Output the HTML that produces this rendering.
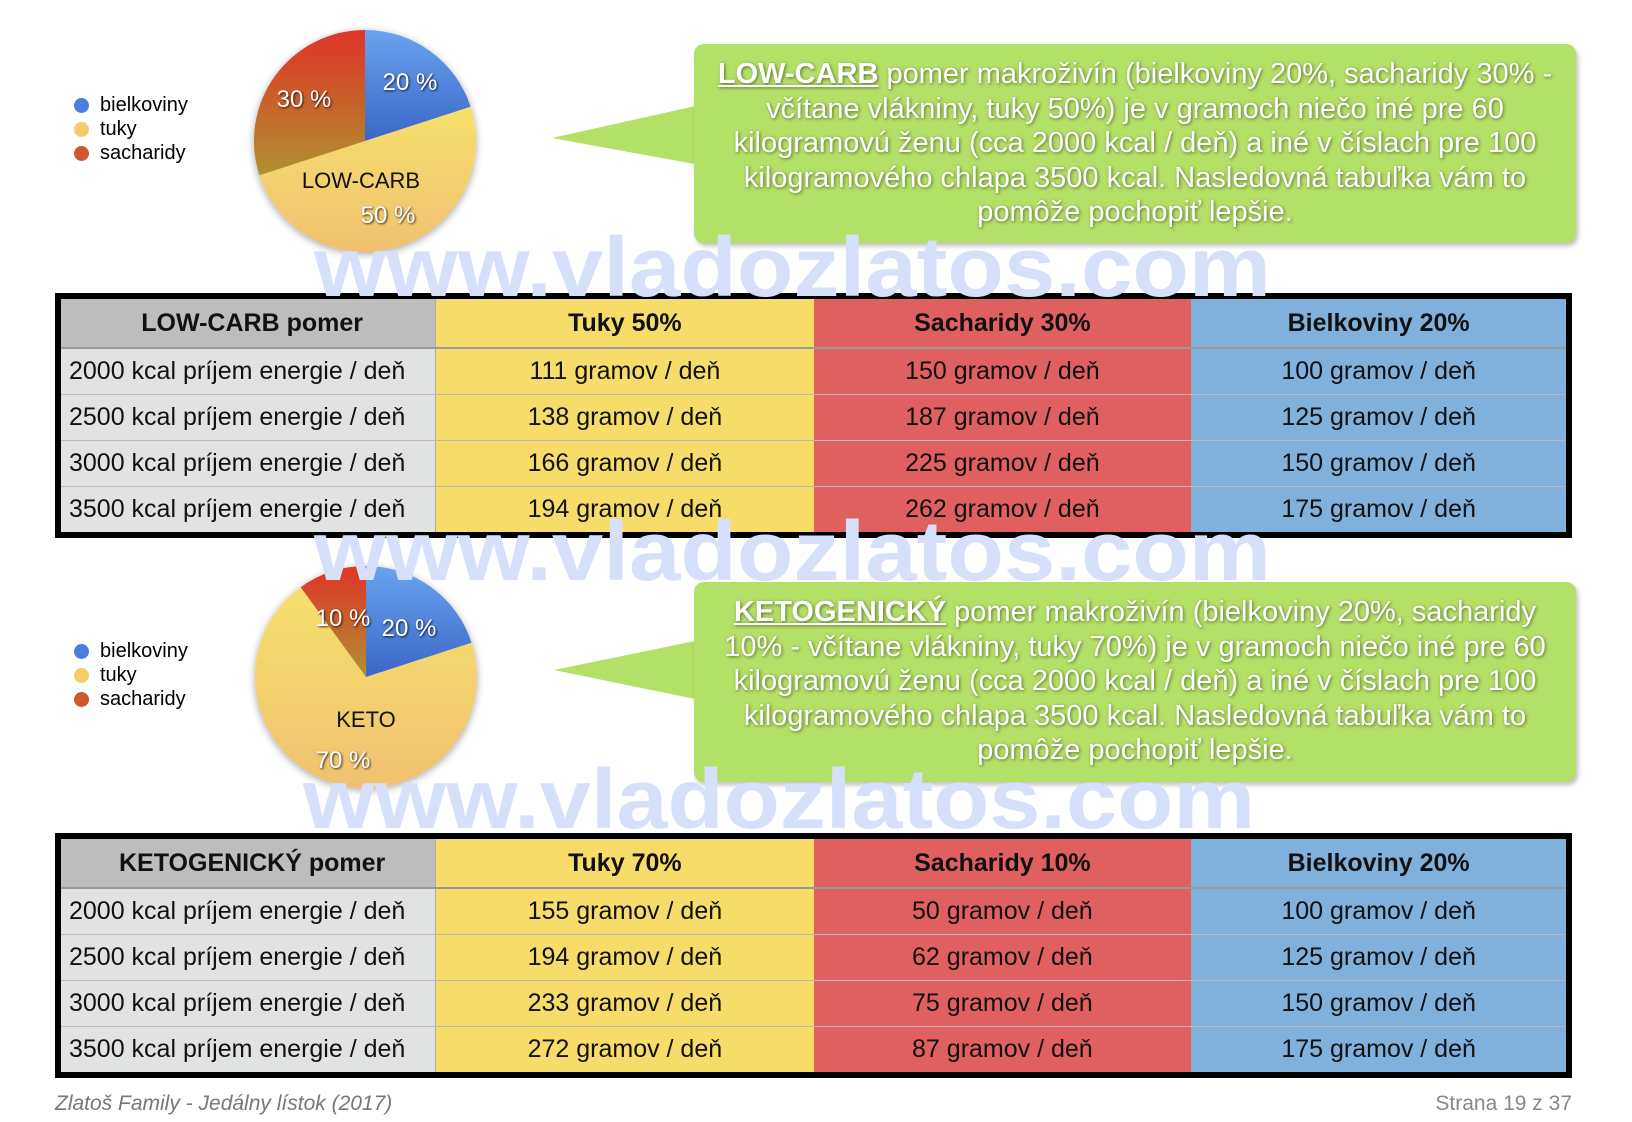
<!DOCTYPE html>
<html><head><meta charset="utf-8"><style>
body{margin:0;width:1632px;height:1122px;background:#fff;position:relative;overflow:hidden;font-family:"Liberation Sans",sans-serif}
.a{position:absolute}
table{position:absolute;border-collapse:collapse;border:6px solid #000;left:55px;width:1517px;table-layout:fixed}
td{height:45px;font-size:25px;text-align:center;border-bottom:1px solid #b9b9b9;padding:0;color:#111}
tr.h td{font-weight:bold;height:48px;border-bottom:2px solid #999}
td.l{text-align:left;padding-left:8px;background:#e1e2e2;border-right:1px solid #aaa}
tr.h td.l{background:#bdbdbd;text-align:center}
td.y{background:#f7dc6a}td.r{background:#e06060}td.b{background:#80b0dc}
.g{position:absolute;background:#b3e066;border-radius:10px;box-shadow:2px 3px 5px rgba(0,0,0,.25);color:#fff;font-size:29px;line-height:34.5px;text-align:center;text-shadow:1px 1px 3px rgba(0,0,0,.5);box-sizing:border-box;padding:13px 10px;white-space:nowrap}
.g u{font-weight:bold}
.lg{position:absolute;font-size:20px;line-height:24px}
.lg div{position:relative;padding-left:20px}
.lg span{position:absolute;left:-6px;top:5px;width:15px;height:15px;border-radius:50%}
</style></head><body>
<svg class="a" style="left:0;top:0" width="1632" height="1122">
<defs>
<linearGradient id="bl" x1="0" y1="0" x2="0" y2="1"><stop offset="0" stop-color="#6aa3ee"/><stop offset="1" stop-color="#3a66c8"/></linearGradient>
<linearGradient id="ye" x1="0" y1="0" x2="0" y2="1"><stop offset="0" stop-color="#f7e06c"/><stop offset="1" stop-color="#f0c070"/></linearGradient>
<linearGradient id="re" x1="0" y1="0" x2="0" y2="1"><stop offset="0" stop-color="#e03428"/><stop offset="1" stop-color="#b09030"/></linearGradient>
<filter id="sh"><feDropShadow dx="0" dy="2" stdDeviation="4" flood-opacity=".35"/></filter>
</defs>
<g filter="url(#sh)">
<path d="M365,141 L365,30 A111,111 0 0 1 470.6,106.7Z" fill="url(#bl)"/>
<path d="M365,141 L470.6,106.7 A111,111 0 1 1 259.4,175.3Z" fill="url(#ye)"/>
<path d="M365,141 L259.4,175.3 A111,111 0 0 1 365,30Z" fill="url(#re)"/>
</g>
<g filter="url(#sh)">
<path d="M366,677 L366,566 A111,111 0 0 1 471.6,642.7Z" fill="url(#bl)"/>
<path d="M366,677 L471.6,642.7 A111,111 0 1 1 300.7,587.2Z" fill="url(#ye)"/>
<path d="M366,677 L300.7,587.2 A111,111 0 0 1 366,566Z" fill="url(#re)"/>
</g>
<g font-family="Liberation Sans,sans-serif" font-size="24" text-anchor="middle" fill="#fff" style="text-shadow:1px 1px 2px rgba(0,0,0,.8)">
<text x="410" y="90">20 %</text><text x="304" y="107">30 %</text><text x="388" y="223">50 %</text>
<text x="409" y="636">20 %</text><text x="343" y="626">10 %</text><text x="343" y="768">70 %</text>
</g>
<g font-family="Liberation Sans,sans-serif" font-size="22" text-anchor="middle" fill="#111">
<text x="361" y="188">LOW-CARB</text><text x="366" y="727">KETO</text>
</g>
<polygon points="552,138 700,105 700,165" fill="#b3e066"/>
<polygon points="554,670 700,640 700,700" fill="#b3e066"/>
</svg>
<div class="lg" style="left:80px;top:93px"><div><span style="background:#4a7fe0"></span>bielkoviny</div><div><span style="background:#f3cd6c"></span>tuky</div><div><span style="background:#cc5a2c"></span>sacharidy</div></div>
<div class="lg" style="left:80px;top:639px"><div><span style="background:#4a7fe0"></span>bielkoviny</div><div><span style="background:#f3cd6c"></span>tuky</div><div><span style="background:#cc5a2c"></span>sacharidy</div></div>
<div class="g" style="left:694px;top:44px;width:882px;height:199px"><u>LOW-CARB</u> pomer makroživín (bielkoviny 20%, sacharidy 30% -<br>včítane vlákniny, tuky 50%) je v gramoch niečo iné pre 60<br>kilogramovú ženu (cca 2000 kcal / deň) a iné v číslach pre 100<br>kilogramového chlapa 3500 kcal. Nasledovná tabuľka vám to<br>pomôže pochopiť lepšie.</div>
<div class="g" style="left:694px;top:582px;width:882px;height:200px"><u>KETOGENICKÝ</u> pomer makroživín (bielkoviny 20%, sacharidy<br>10% - včítane vlákniny, tuky 70%) je v gramoch niečo iné pre 60<br>kilogramovú ženu (cca 2000 kcal / deň) a iné v číslach pre 100<br>kilogramového chlapa 3500 kcal. Nasledovná tabuľka vám to<br>pomôže pochopiť lepšie.</div>
<table style="top:293px">
<tr class="h"><td class="l">LOW-CARB pomer</td><td class="y">Tuky 50%</td><td class="r">Sacharidy 30%</td><td class="b">Bielkoviny 20%</td></tr>
<tr><td class="l">2000 kcal príjem energie / deň</td><td class="y">111 gramov / deň</td><td class="r">150 gramov / deň</td><td class="b">100 gramov / deň</td></tr>
<tr><td class="l">2500 kcal príjem energie / deň</td><td class="y">138 gramov / deň</td><td class="r">187 gramov / deň</td><td class="b">125 gramov / deň</td></tr>
<tr><td class="l">3000 kcal príjem energie / deň</td><td class="y">166 gramov / deň</td><td class="r">225 gramov / deň</td><td class="b">150 gramov / deň</td></tr>
<tr><td class="l">3500 kcal príjem energie / deň</td><td class="y">194 gramov / deň</td><td class="r">262 gramov / deň</td><td class="b">175 gramov / deň</td></tr>
</table>
<table style="top:833px">
<tr class="h"><td class="l">KETOGENICKÝ pomer</td><td class="y">Tuky 70%</td><td class="r">Sacharidy 10%</td><td class="b">Bielkoviny 20%</td></tr>
<tr><td class="l">2000 kcal príjem energie / deň</td><td class="y">155 gramov / deň</td><td class="r">50 gramov / deň</td><td class="b">100 gramov / deň</td></tr>
<tr><td class="l">2500 kcal príjem energie / deň</td><td class="y">194 gramov / deň</td><td class="r">62 gramov / deň</td><td class="b">125 gramov / deň</td></tr>
<tr><td class="l">3000 kcal príjem energie / deň</td><td class="y">233 gramov / deň</td><td class="r">75 gramov / deň</td><td class="b">150 gramov / deň</td></tr>
<tr><td class="l">3500 kcal príjem energie / deň</td><td class="y">272 gramov / deň</td><td class="r">87 gramov / deň</td><td class="b">175 gramov / deň</td></tr>
</table>
<svg class="a" style="left:0;top:0" width="1632" height="1122">
<g font-family="Liberation Sans,sans-serif" font-weight="bold" font-size="84" fill="#d6e0fb">
<text x="314" y="296" textLength="957" lengthAdjust="spacingAndGlyphs">www.vladozlatos.com</text>
<text x="314" y="580" textLength="957" lengthAdjust="spacingAndGlyphs">www.vladozlatos.com</text>
<text x="303" y="828" textLength="952" lengthAdjust="spacingAndGlyphs">www.vladozlatos.com</text>
</g>
</svg>
<div class="a" style="left:55px;top:1092px;font-size:21px;font-style:italic;color:#777">Zlatoš Family - Jedálny lístok (2017)</div>
<div class="a" style="right:60px;top:1092px;font-size:21px;color:#888">Strana 19 z 37</div>
</body></html>
